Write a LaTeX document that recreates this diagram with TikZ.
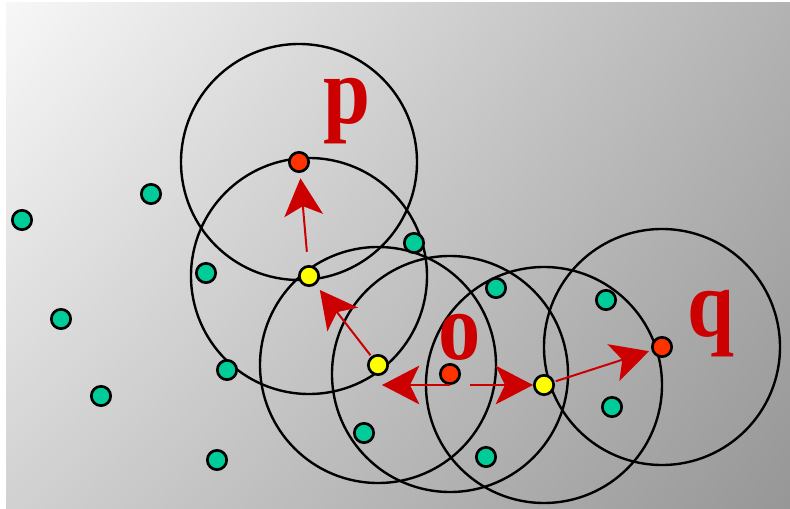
\documentclass[tikz,border=0pt]{standalone}
\usepackage{fontspec}
\setmainfont{Liberation Serif}
\usetikzlibrary{arrows.meta, backgrounds, shadings}
\definecolor{dotteal}{RGB}{0,204,153}
\definecolor{dotred}{RGB}{255,51,0}
\definecolor{dotyellow}{RGB}{255,255,0}
\definecolor{arrowred}{RGB}{204,0,0}

\begin{document}
\begin{tikzpicture}[
        x=0.75pt, y=-0.75pt,
        dot/.style={circle, draw=black, line width=2pt, inner sep=0pt, minimum size=14.5pt},
        noise/.style={dot, fill=dotteal},
        core/.style={dot, fill=dotred},
        borderpt/.style={dot, fill=dotyellow},
        reach/.style={draw=black, line width=1.8pt},
        arrow/.style={-{Stealth[length=28pt, width=29pt, inset=7pt]}, arrowred, line width=1.5pt},
        lbl/.style={text=arrowred, font=\bfseries\fontsize{72}{72}\selectfont, anchor=base, inner sep=0pt, xscale=0.88}
    ]
        \node[core] (p) at (299,162) {};
        \node[core] (o) at (450,374) {};
        \node[core] (q) at (662,347) {};
        \node[borderpt] (b1) at (309,276) {};
        \node[borderpt] (b2) at (378,365) {};
        \node[borderpt] (b3) at (544,385) {};

        \foreach \x/\y [count=\i] in {151/194, 22/220, 61/319, 101/396, 206/273, 227/370, 217/460,
                                      414/243, 496/288, 606/300, 612/407, 364/433, 486/457}
            \node[noise] (n\i) at (\x,\y) {};

        \node[lbl] (plabel) at (347,124) {p};
        \node[lbl] (olabel) at (460,360) {o};
        \node[lbl] (qlabel) at (711,337) {q};

        \draw[arrow, shorten <=10pt, shorten >=4pt] (b1) -- (p);
        \draw[arrow, shorten <=1pt, shorten >=5pt] (b2) -- (b1);
        \draw[arrow, shorten >=3pt] (o.south) -- (o.south -| b2);
        \draw[arrow, shorten <=15pt] (o.south) -- (o.south -| b3.west);
        \draw[arrow, shorten <=1pt, shorten >=2pt] (b3) -- (q);

        \begin{scope}[on background layer]
            \fill[white] (0,0) rectangle (790,509);
            \shade[upper left=white!97!black, upper right=black!30, lower left=black!18, lower right=black!41] (6,3) rectangle (790,509);
            \foreach \c in {p, b1, b2, o, b3, q}
                \draw[reach] (\c) circle[radius=118];
        \end{scope}
    \end{tikzpicture}
\end{document}
